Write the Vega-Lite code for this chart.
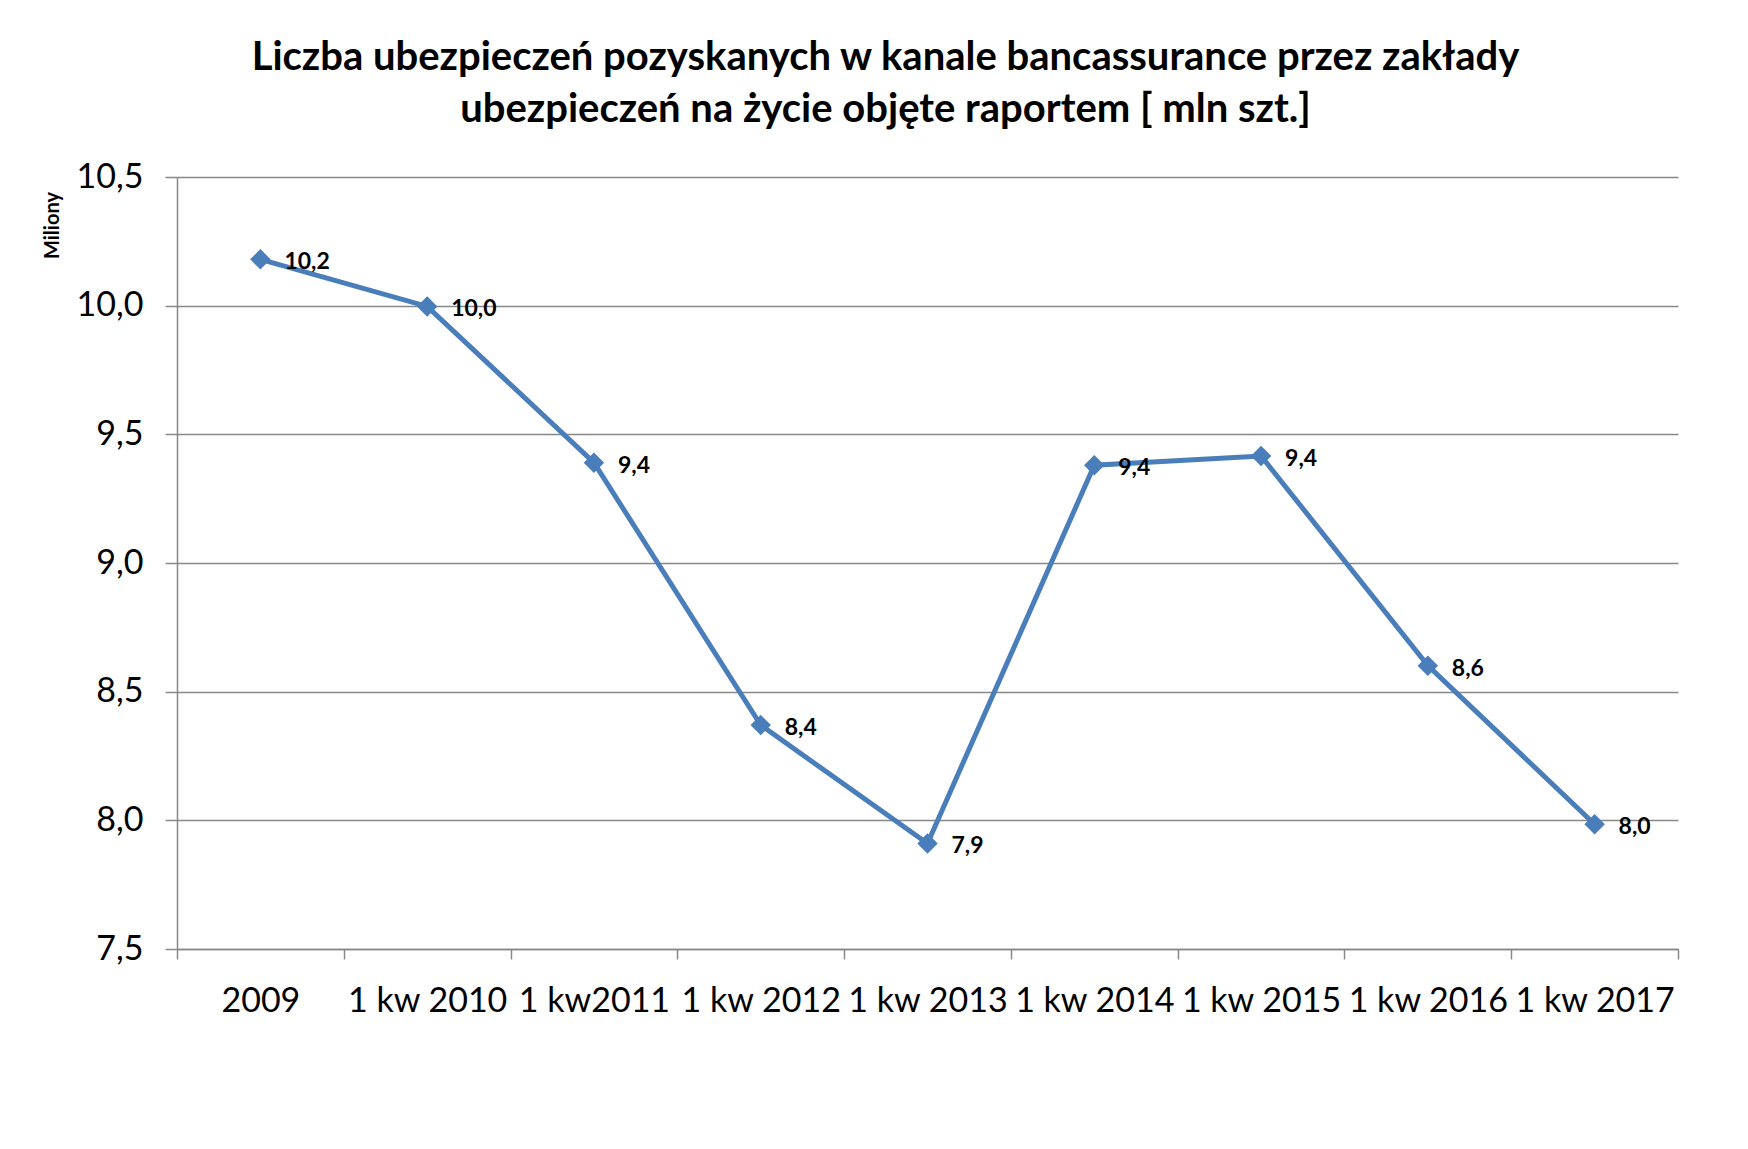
{
  "$schema": "https://vega.github.io/schema/vega-lite/v6.json",
  "width": 1501,
  "height": 772,
  "autosize": {"type": "none"},
  "padding": {"left": 177, "top": 177, "right": 70, "bottom": 200},
  "background": "white",
  "config": {
    "locale": {"number": {"decimal": ",", "thousands": " ", "grouping": [3], "currency": ["", " zł"]}},
    "view": {"stroke": null},
    "font": "Lato"
  },
  "title": {
    "text": ["Liczba ubezpieczeń  pozyskanych w kanale bancassurance przez zakłady", "ubezpieczeń na życie objęte raportem [ mln szt.]"],
    "font": "Lato",
    "fontSize": 40,
    "fontWeight": "bold",
    "color": "black",
    "anchor": "middle",
    "dx": -42,
    "offset": 30,
    "lineHeight": 52
  },
  "data": {
    "values": [
      {"okres": "2009", "wartosc": 10.18},
      {"okres": "1 kw 2010", "wartosc": 9.997},
      {"okres": "1 kw2011", "wartosc": 9.39},
      {"okres": "1 kw 2012", "wartosc": 8.37},
      {"okres": "1 kw 2013", "wartosc": 7.91},
      {"okres": "1 kw 2014", "wartosc": 9.38},
      {"okres": "1 kw 2015", "wartosc": 9.416},
      {"okres": "1 kw 2016", "wartosc": 8.601},
      {"okres": "1 kw 2017", "wartosc": 7.985}
    ]
  },
  "encoding": {
    "x": {
      "field": "okres",
      "type": "ordinal",
      "sort": null,
      "bandPosition": 0.5,
      "scale": {"type": "band", "paddingInner": 0, "paddingOuter": 0},
      "axis": {
        "title": null,
        "labelAngle": 0,
        "labelFont": "Lato",
        "labelFontSize": 34,
        "labelColor": "black",
        "labelPadding": 25,
        "tickBand": "extent",
        "tickSize": 10,
        "tickColor": "#888888",
        "tickWidth": 1.5,
        "domainColor": "#888888",
        "domainWidth": 1.5,
        "grid": false
      }
    },
    "y": {
      "field": "wartosc",
      "type": "quantitative",
      "scale": {"domain": [7.5, 10.5], "nice": false, "zero": false},
      "axis": {
        "title": "Miliony",
        "titleFont": "Lato",
        "titleFontSize": 20,
        "titleFontWeight": "bold",
        "titleColor": "black",
        "titleX": -125,
        "titleY": 48,
        "titleAlign": "center",
        "titleBaseline": "middle",
        "values": [7.5, 8, 8.5, 9, 9.5, 10, 10.5],
        "format": ".1f",
        "labelFont": "Lato",
        "labelFontSize": 34,
        "labelColor": "black",
        "labelPadding": 22,
        "tickSize": 12,
        "tickColor": "#888888",
        "tickWidth": 1.5,
        "domainColor": "#888888",
        "domainWidth": 1.5,
        "grid": true,
        "gridColor": "#888888",
        "gridWidth": 1.5
      }
    }
  },
  "layer": [
    {
      "mark": {"type": "line", "color": "#4A7EBB", "strokeWidth": 5}
    },
    {
      "mark": {"type": "point", "shape": "diamond", "filled": true, "color": "#4A7EBB", "size": 420, "opacity": 1}
    },
    {
      "mark": {"type": "text", "align": "left", "baseline": "middle", "dx": 24, "dy": 3, "font": "Lato", "fontSize": 23, "fontWeight": "bold", "color": "black"},
      "encoding": {
        "text": {"field": "wartosc", "type": "quantitative", "format": ".1f"}
      }
    }
  ]
}
